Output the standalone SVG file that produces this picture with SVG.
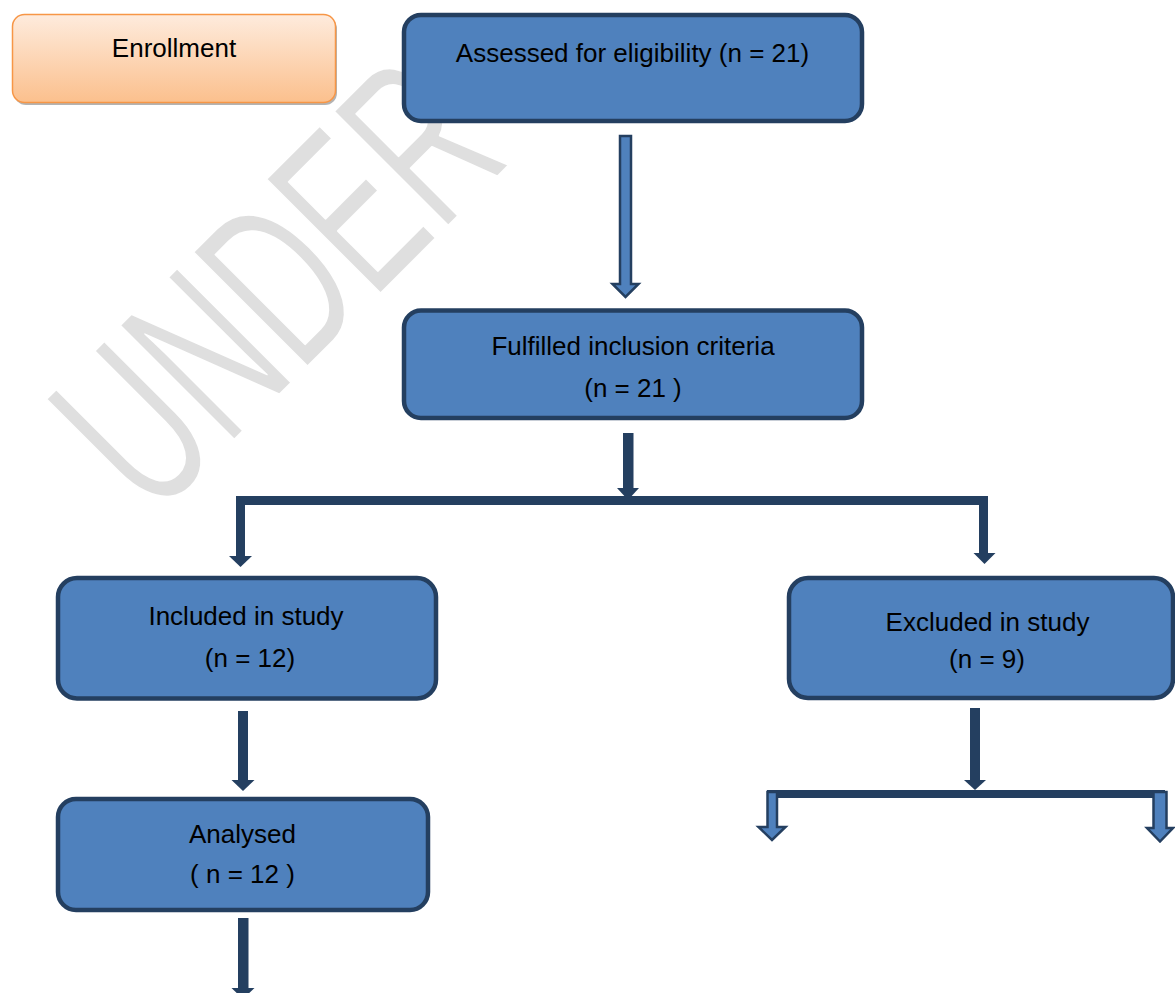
<svg xmlns="http://www.w3.org/2000/svg" width="1175" height="993" viewBox="0 0 1175 993">
  <style>
    .box { fill:#4F81BD; stroke:#243F60; stroke-width:4.5; }
    .lbl { font-family:"Liberation Sans", Arial, sans-serif; font-size:26px; fill:#000; text-anchor:middle; }
    .solid { fill:#243F60; }
    .hollow { fill:#4F81BD; stroke:#243F60; stroke-width:2.5; stroke-linejoin:miter; }
    .bar { fill:none; stroke:#243F60; stroke-width:9; stroke-linejoin:miter; }
    .wm { font-family:"Liberation Sans", Arial, sans-serif; font-size:235px; fill:#dfdfdf; stroke:#ffffff; stroke-width:2; stroke-linejoin:round; }
  </style>
  <defs>
    <linearGradient id="orange" x1="0" y1="0" x2="0" y2="1">
      <stop offset="0" stop-color="#FEEBDD"/>
      <stop offset="1" stop-color="#FBC08D"/>
    </linearGradient>
  </defs>
  <rect x="0" y="0" width="1175" height="993" fill="#ffffff"/>

  <g id="watermark">
    <text class="wm" x="0" y="0" transform="translate(153,521) rotate(-45) scale(0.61,1)">UNDER</text>
  </g>

  <g id="connectors">
    <polygon class="hollow" points="620,136 631,136 631,284 638.5,284 625.5,297 612.5,284 620,284"/>
    <rect class="solid" x="623" y="433" width="10.5" height="56"/>
    <polygon class="solid" points="617,488 639,488 628,500"/>
    <path class="bar" d="M240.5,557 V500.5 H983.5 V554"/>
    <polygon class="solid" points="229,556 252,556 240.5,567"/>
    <polygon class="solid" points="973.5,553 995.5,553 984.5,564"/>
    <rect class="solid" x="238" y="711" width="10" height="70"/>
    <polygon class="solid" points="231.5,780 254.5,780 243,791"/>
    <rect class="solid" x="238" y="918" width="10.5" height="71"/>
    <polygon class="solid" points="231.5,988 254.5,988 243,999"/>
    <rect class="solid" x="970" y="708" width="10" height="73"/>
    <polygon class="solid" points="964,780 986,780 975,790"/>
    <rect class="solid" x="767" y="790" width="398" height="8"/>
    <polygon class="hollow" points="767.5,792 777,792 777,827 785.5,827 772,840 758.5,827 767.5,827"/>
    <polygon class="hollow" points="1153.5,792 1166.5,792 1166.5,828 1173,828 1160,841.5 1147,828 1153.5,828"/>
  </g>

  <g id="enrollment">
    <rect x="14" y="17" width="323" height="88" rx="12" fill="#9a9a9a" opacity="0.75"/>
    <rect x="12.5" y="14.5" width="323" height="88" rx="12" fill="url(#orange)" stroke="#F79646" stroke-width="1.5"/>
    <text class="lbl" x="174" y="57">Enrollment</text>
  </g>

  <g id="assessed">
    <rect class="box" x="404" y="15" width="458" height="106" rx="17"/>
    <text class="lbl" x="632.5" y="62">Assessed for eligibility (n = 21)</text>
  </g>

  <g id="fulfilled">
    <rect class="box" x="404" y="310.5" width="458" height="107.5" rx="17"/>
    <text class="lbl" x="633" y="355">Fulfilled inclusion criteria</text>
    <text class="lbl" x="633" y="397">(n = 21 )</text>
  </g>

  <g id="included">
    <rect class="box" x="58" y="578" width="378" height="120.5" rx="19"/>
    <text class="lbl" x="246" y="625">Included in study</text>
    <text class="lbl" x="250" y="667">(n = 12)</text>
  </g>

  <g id="excluded">
    <rect class="box" x="789" y="578" width="384" height="120" rx="19"/>
    <text class="lbl" x="987.5" y="631">Excluded in study</text>
    <text class="lbl" x="987" y="668">(n = 9)</text>
  </g>

  <g id="analysed">
    <rect class="box" x="58" y="799" width="370" height="111" rx="18"/>
    <text class="lbl" x="242.5" y="843">Analysed</text>
    <text class="lbl" x="242.5" y="883">( n = 12 )</text>
  </g>
</svg>
